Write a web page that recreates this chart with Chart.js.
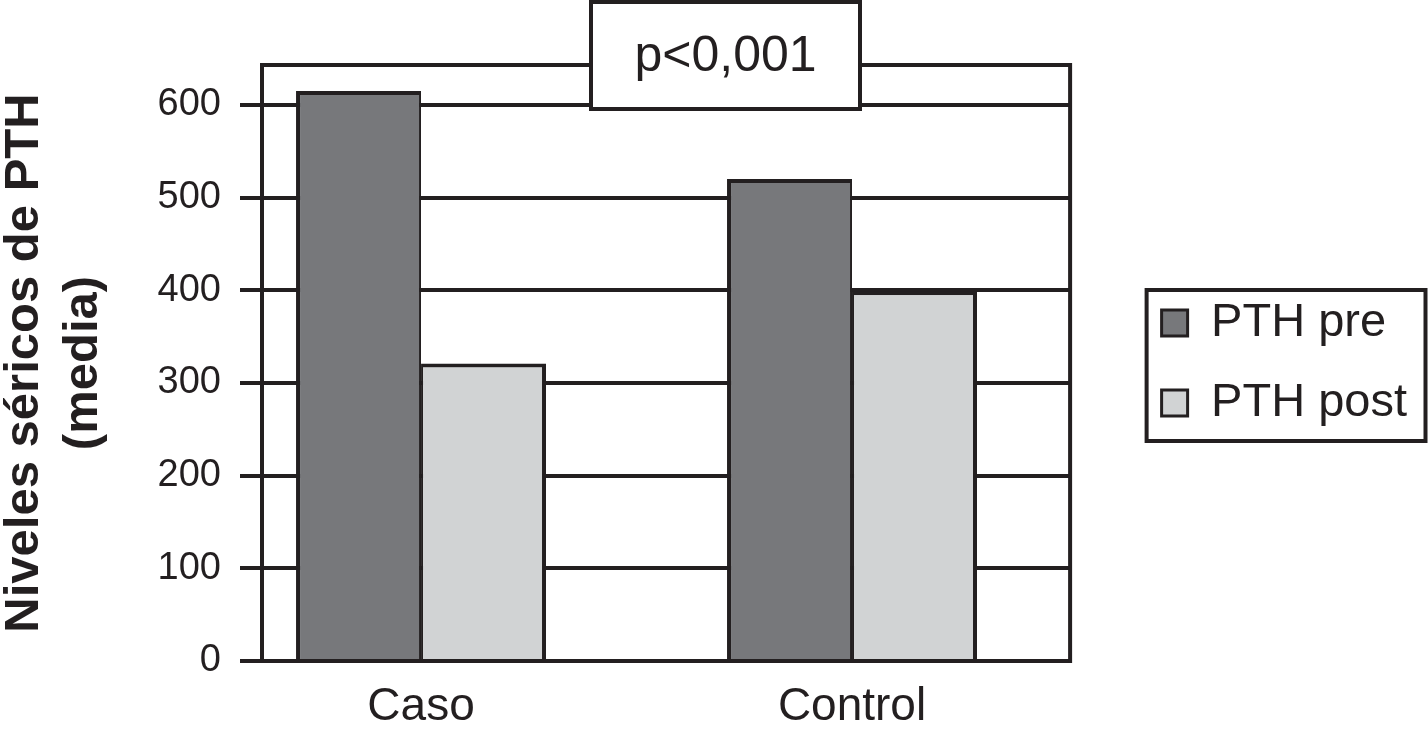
<!DOCTYPE html>
<html><head><meta charset="utf-8">
<script src="https://cdn.jsdelivr.net/npm/chart.js@4/dist/chart.umd.min.js"></script>
<style>html,body{margin:0;padding:0;background:#fff;}</style>
</head><body>
<canvas id="c" width="1428" height="736"></canvas>
<script>
// ---- data ----
const categories = ['Caso', 'Control'];
const seriesLabels = ['PTH pre', 'PTH post'];
const pthPre = [615, 520];
const pthPost = [321, 399];
const yTickValues = [0, 100, 200, 300, 400, 500, 600];
const yTitle = ['Niveles séricos de PTH', '(media)'];
const annotationText = 'p<0,001';

// ---- style ----
const INK = '#231f20';
const DARK = '#77787b';
const LIGHT = '#d1d3d4';
const FONT = "'Liberation Sans', Arial, Helvetica, sans-serif";
const LEGEND_PAD = 33;
Chart.defaults.font.family = FONT;
Chart.defaults.color = INK;

const toPoints = arr => arr.map((v, i) => ({x: i + 1, y: v}));

const framePlugin = {
  id: 'frame',
  afterDraw(chart, args, opts) {
    const {ctx, chartArea: a} = chart;
    ctx.save();
    ctx.strokeStyle = INK;
    ctx.lineWidth = 4;
    // top and right frame of plot
    ctx.beginPath();
    ctx.moveTo(a.left - 2, a.top);
    ctx.lineTo(a.right, a.top);
    ctx.lineTo(a.right, a.bottom + 2);
    ctx.stroke();
    // legend border
    const lg = chart.legend;
    if (lg && lg.legendHitBoxes && lg.legendHitBoxes.length > 1) {
      const h0 = lg.legendHitBoxes[0], h1 = lg.legendHitBoxes[1];
      const top = h0.top + h0.height / 2 - 33;
      const bottom = h1.top + h1.height / 2 + 38;
      const left = lg.left + LEGEND_PAD - 15, right = lg.right + 8.5;
      ctx.strokeRect(left, top, right - left, bottom - top);
    }
    // annotation box
    const b = opts.box;
    ctx.fillStyle = '#ffffff';
    ctx.fillRect(b.x, b.y, b.w, b.h);
    ctx.strokeRect(b.x, b.y, b.w, b.h);
    ctx.fillStyle = INK;
    ctx.font = opts.fontSize + 'px ' + FONT;
    ctx.textAlign = 'center';
    ctx.textBaseline = 'middle';
    ctx.fillText(opts.text, b.x + b.w / 2, b.y + b.h / 2 + 2);
    ctx.restore();
  }
};

new Chart(document.getElementById('c'), {
  type: 'bar',
  data: {
    datasets: [
      {
        label: seriesLabels[0],
        data: toPoints(pthPre),
        backgroundColor: DARK,
        borderColor: INK,
        borderWidth: {top: 4, left: 4, right: 2, bottom: 0},
        categoryPercentage: 0.58,
        barPercentage: 1.0
      },
      {
        label: seriesLabels[1],
        data: toPoints(pthPost),
        backgroundColor: LIGHT,
        borderColor: INK,
        borderWidth: {top: 4, left: 2, right: 4, bottom: 0},
        categoryPercentage: 0.58,
        barPercentage: 1.0
      }
    ]
  },
  options: {
    responsive: false,
    animation: false,
    devicePixelRatio: 1,
    layout: {padding: {top: 65, left: 0, right: 11, bottom: 0}},
    plugins: {
      legend: {
        position: 'right',
        fullSize: false,
        maxWidth: 400,
        labels: {
          boxWidth: 26,
          boxHeight: 26,
          padding: LEGEND_PAD,
          color: INK,
          font: {size: 47, lineHeight: 1.19},
          generateLabels: (chart) => Chart.defaults.plugins.legend.labels.generateLabels(chart).map(l => Object.assign(l, {lineWidth: 3}))
        }
      },
      tooltip: {enabled: false},
      frame: {
        box: {x: 591, y: 2, w: 269, h: 107},
        fontSize: 50,
        text: annotationText
      }
    },
    scales: {
      x: {
        type: 'linear',
        offset: false,
        min: 0.631,
        max: 2.506,
        afterBuildTicks: (s) => { s.ticks = categories.map((c, i) => ({value: i + 1})); },
        afterFit: (s) => { s.height = 75; },
        grid: {display: false, drawTicks: false, offset: false},
        border: {display: true, color: INK, width: 4},
        ticks: {
          autoSkip: false,
          maxRotation: 0,
          padding: 19,
          color: INK,
          font: {size: 46},
          callback: (v) => categories[Math.round(v) - 1] ?? ''
        }
      },
      y: {
        min: 0,
        max: 643,
        afterBuildTicks: (s) => { s.ticks = yTickValues.map(v => ({value: v})); },
        afterFit: (s) => { s.width = 262; },
        grid: {color: INK, lineWidth: 4, tickLength: 22, drawTicks: true, drawOnChartArea: true},
        border: {display: true, color: INK, width: 4},
        ticks: {padding: 19, color: INK, font: {size: 38}},
        title: {
          display: true,
          text: yTitle,
          color: INK,
          font: {size: 49, weight: 'bold', lineHeight: 1.2},
          padding: {top: -5, bottom: 0}
        }
      },
      gap: {
        type: 'linear',
        position: 'right',
        display: true,
        grid: {display: false, drawTicks: false},
        border: {display: false},
        ticks: {display: false},
        afterFit: (s) => { s.width = 58.5; }
      }
    }
  },
  plugins: [framePlugin]
});
</script>
</body></html>
